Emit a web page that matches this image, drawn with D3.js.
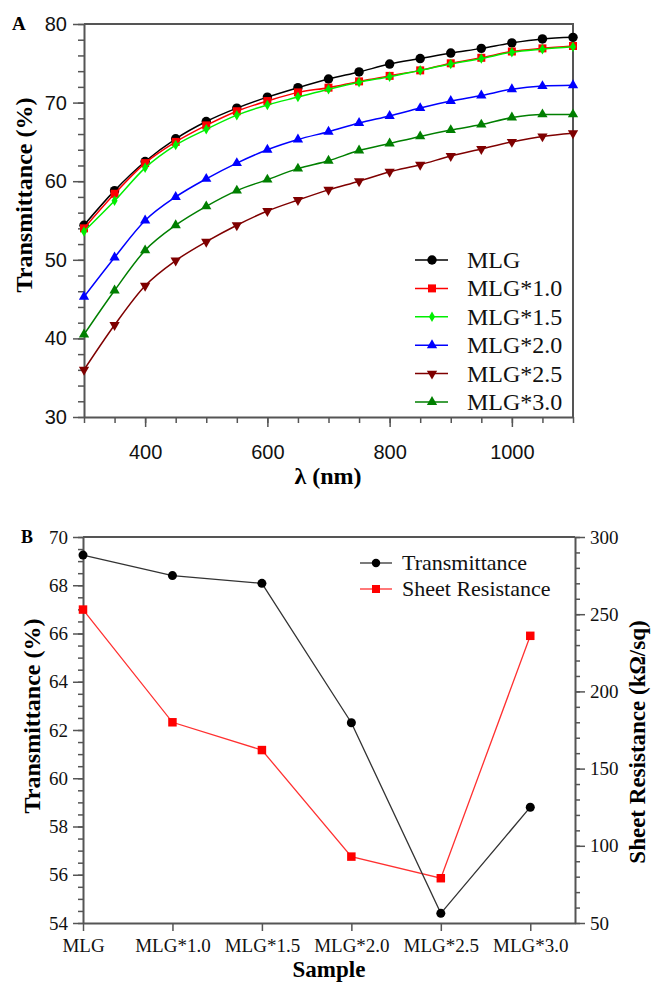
<!DOCTYPE html>
<html>
<head>
  <meta charset="utf-8">
  <title>MLG transmittance</title>
  <style>
    body { margin: 0; background: #fff; }
    svg { display: block; }
    .axis path, .axis line { stroke: #555; }
  </style>
</head>
<body>
  <div id='chart'></div>
  <script src="https://d3js.org/d3.v7.min.js"></script>
  <script>
    // panel A data (every 50 nm)
    let wavelengths = [300, 350, 400, 450, 500, 550, 600, 650, 700, 750, 800, 850, 900, 950, 1000, 1050, 1100];
    let mlg   = [54.4, 58.8, 62.5, 65.4, 67.6, 69.3, 70.7, 71.9, 73.0, 73.9, 74.9, 75.6, 76.3, 76.9, 77.6, 78.1, 78.3];
    let mlg10 = [54.0, 58.4, 62.3, 65.0, 67.1, 68.9, 70.2, 71.3, 71.9, 72.7, 73.4, 74.1, 75.0, 75.7, 76.5, 76.9, 77.2];
    let mlg15 = [53.6, 57.5, 61.7, 64.6, 66.6, 68.4, 69.7, 70.7, 71.7, 72.6, 73.3, 74.1, 74.9, 75.6, 76.4, 76.8, 77.1];
    let mlg20 = [45.3, 50.3, 55.0, 58.0, 60.3, 62.3, 64.0, 65.3, 66.3, 67.4, 68.3, 69.3, 70.2, 70.9, 71.7, 72.1, 72.2];
    let mlg25 = [36.0, 41.7, 46.7, 49.9, 52.3, 54.4, 56.2, 57.6, 58.9, 60.0, 61.2, 62.1, 63.2, 64.1, 65.0, 65.7, 66.1];
    let mlg30 = [40.5, 46.1, 51.2, 54.4, 56.8, 58.8, 60.2, 61.6, 62.6, 63.9, 64.8, 65.7, 66.5, 67.2, 68.1, 68.5, 68.5];
    let seriesNames = ['MLG', 'MLG*1.0', 'MLG*1.5', 'MLG*2.0', 'MLG*2.5', 'MLG*3.0'];

    // panel B data
    let samples = ['MLG', 'MLG*1.0', 'MLG*1.5', 'MLG*2.0', 'MLG*2.5', 'MLG*3.0'];
    let transB = [69.25, 68.4, 68.08, 62.3, 54.4, 58.8];
    let sheetR = [253, 180, 162, 93, 79, 236];

    let svgWidth = 651;
    let svgHeight = 985;
    let serif = "'Liberation Serif', 'Times New Roman', serif";
    let sans = "'Liberation Sans', Arial, sans-serif";

    function translate(x, y) {
      return 'translate(' + x + ',' + y + ')';
    }

    let svg = d3.select('#chart').append('svg')
      .attr('width', svgWidth)
      .attr('height', svgHeight);

    // ---------- panel A ----------
    let styles = [
      { color: '#000000', sym: d3.symbolCircle, size: 70, rot: 0 },
      { color: '#ff0000', sym: d3.symbolSquare, size: 64, rot: 0 },
      { color: '#00ee00', sym: d3.symbolDiamond, size: 32, rot: 0 },
      { color: '#0000ff', sym: d3.symbolTriangle, size: 46, rot: 0 },
      { color: '#7f0000', sym: d3.symbolTriangle, size: 46, rot: 180 },
      { color: '#007f00', sym: d3.symbolTriangle, size: 46, rot: 0 }
    ];
    let seriesA = [mlg, mlg10, mlg15, mlg20, mlg25, mlg30];

    let ax = d3.scaleLinear().domain([300, 1100]).range([84, 573]);
    let ay = d3.scaleLinear().domain([30, 80]).range([417, 24]);

    let gA = svg.append('g');

    // minor ticks
    gA.append('g').attr('class', 'axis').attr('transform', translate(84, 0))
      .call(d3.axisLeft(ay).tickValues(d3.range(30, 81, 2)).tickSize(6).tickFormat(''))
      .call(g => g.select('.domain').remove())
      .selectAll('line').attr('stroke-width', 1.5);
    gA.append('g').attr('class', 'axis').attr('transform', translate(0, 417))
      .call(d3.axisBottom(ax).tickValues(d3.range(300, 1101, 50)).tickSize(6).tickFormat(''))
      .call(g => g.select('.domain').remove())
      .selectAll('line').attr('stroke-width', 1.5);

    // major ticks
    let ayAxis = gA.append('g').attr('class', 'axis').attr('transform', translate(84, 0))
      .call(d3.axisLeft(ay).tickValues(d3.range(30, 81, 10)).tickSize(11).tickPadding(6).tickSizeOuter(0));
    let axAxis = gA.append('g').attr('class', 'axis').attr('transform', translate(0, 417))
      .call(d3.axisBottom(ax).tickValues([400, 600, 800, 1000]).tickFormat(d3.format('d'))
        .tickSize(10).tickPadding(18).tickSizeOuter(0));
    [ayAxis, axAxis].forEach(a => {
      a.selectAll('text').attr('font-family', sans).attr('font-size', 20).attr('fill', '#111');
      a.selectAll('line').attr('stroke-width', 1.5);
      a.select('.domain').attr('stroke-width', 2);
    });

    // frame top + right
    gA.append('path')
      .attr('d', 'M' + ax(300) + ',' + ay(80) + 'H' + ax(1100) + 'V' + ay(30))
      .attr('fill', 'none').attr('stroke', '#555').attr('stroke-width', 2);

    let lineA = d3.line()
      .x((d, i) => ax(wavelengths[i]))
      .y(d => ay(d))
      .curve(d3.curveMonotoneX);

    seriesA.forEach((vals, k) => {
      let st = styles[k];
      let g = gA.append('g');
      g.append('path')
        .attr('d', lineA(vals))
        .attr('fill', 'none')
        .attr('stroke', st.color)
        .attr('stroke-width', 1.5);
      g.selectAll('path.pt').data(vals).enter()
        .append('path')
        .attr('class', 'pt')
        .attr('d', d3.symbol().type(st.sym).size(st.size))
        .attr('transform', (d, i) => translate(ax(wavelengths[i]), ay(d)) + ' rotate(' + st.rot + ')')
        .attr('fill', st.color);
    });

    // legend A
    let legA = gA.append('g');
    seriesNames.forEach((name, k) => {
      let st = styles[k];
      let y = 260 + k * 28.4;
      legA.append('line').attr('x1', 415).attr('x2', 448).attr('y1', y).attr('y2', y)
        .attr('stroke', st.color).attr('stroke-width', 1.5);
      legA.append('path')
        .attr('d', d3.symbol().type(st.sym).size(st.size))
        .attr('transform', translate(432, y) + ' rotate(' + st.rot + ')')
        .attr('fill', st.color);
      legA.append('text').attr('x', 467).attr('y', y + 8)
        .attr('font-family', serif).attr('font-size', 24).attr('fill', '#111')
        .text(name);
    });

    gA.append('text').attr('x', 12).attr('y', 30)
      .attr('font-family', serif).attr('font-weight', 'bold').attr('font-size', 19)
      .text('A');
    gA.append('text')
      .attr('transform', translate(32, 195) + ' rotate(-90)')
      .attr('text-anchor', 'middle')
      .attr('font-family', serif).attr('font-weight', 'bold').attr('font-size', 24)
      .text('Transmittance (%)');
    gA.append('text').attr('x', 328).attr('y', 484)
      .attr('text-anchor', 'middle')
      .attr('font-family', serif).attr('font-weight', 'bold').attr('font-size', 24)
      .text('λ (nm)');

    // ---------- panel B ----------
    let bx = d3.scaleLinear().domain([0, 5.5]).range([83, 575]);
    let by = d3.scaleLinear().domain([54, 70]).range([923, 537]);
    let br = d3.scaleLinear().domain([50, 300]).range([923, 537]);

    let gB = svg.append('g');

    gB.append('g').attr('class', 'axis').attr('transform', translate(83, 0))
      .call(d3.axisLeft(by).tickValues(d3.range(54, 70.01, 0.5)).tickSize(5).tickFormat(''))
      .call(g => g.select('.domain').remove())
      .selectAll('line').attr('stroke-width', 1.5);
    gB.append('g').attr('class', 'axis').attr('transform', translate(575, 0))
      .call(d3.axisRight(br).tickValues(d3.range(50, 301, 10)).tickSize(5).tickFormat(''))
      .call(g => g.select('.domain').remove())
      .selectAll('line').attr('stroke-width', 1.5);

    let byAxis = gB.append('g').attr('class', 'axis').attr('transform', translate(83, 0))
      .call(d3.axisLeft(by).tickValues(d3.range(54, 71, 2)).tickSize(10).tickPadding(5).tickSizeOuter(0));
    let brAxis = gB.append('g').attr('class', 'axis').attr('transform', translate(575, 0))
      .call(d3.axisRight(br).tickValues(d3.range(50, 301, 50)).tickSize(10).tickPadding(5).tickSizeOuter(0));
    let bxAxis = gB.append('g').attr('class', 'axis').attr('transform', translate(0, 923))
      .call(d3.axisBottom(bx).tickValues(d3.range(0, 6)).tickFormat(i => samples[i])
        .tickSize(8).tickPadding(8).tickSizeOuter(0));
    [byAxis, brAxis, bxAxis].forEach(a => {
      a.selectAll('text').attr('font-family', serif).attr('font-size', 19).attr('fill', '#111');
      a.selectAll('line').attr('stroke-width', 1.5);
      a.select('.domain').attr('stroke-width', 2);
    });

    gB.append('line').attr('x1', 83).attr('x2', 575).attr('y1', 537).attr('y2', 537)
      .attr('stroke', '#555').attr('stroke-width', 2);

    let lineT = d3.line().x((d, i) => bx(i)).y(d => by(d));
    let lineR = d3.line().x((d, i) => bx(i)).y(d => br(d));

    gB.append('path').attr('d', lineR(sheetR))
      .attr('fill', 'none').attr('stroke', '#ff3030').attr('stroke-width', 1.3);
    gB.append('path').attr('d', lineT(transB))
      .attr('fill', 'none').attr('stroke', '#333').attr('stroke-width', 1.3);

    gB.selectAll('.sq').data(sheetR).enter()
      .append('path').attr('class', 'sq')
      .attr('d', d3.symbol().type(d3.symbolSquare).size(72))
      .attr('transform', (d, i) => translate(bx(i), br(d)))
      .attr('fill', '#ff0000');
    gB.selectAll('.ci').data(transB).enter()
      .append('path').attr('class', 'ci')
      .attr('d', d3.symbol().type(d3.symbolCircle).size(64))
      .attr('transform', (d, i) => translate(bx(i), by(d)))
      .attr('fill', '#000');

    // legend B
    let legB = [
      { name: 'Transmittance', color: '#333', fill: '#000', sym: d3.symbolCircle, size: 56 },
      { name: 'Sheet Resistance', color: '#ff3030', fill: '#ff0000', sym: d3.symbolSquare, size: 64 }
    ];
    legB.forEach((l, k) => {
      let y = 563 + k * 26;
      gB.append('line').attr('x1', 360).attr('x2', 392).attr('y1', y).attr('y2', y)
        .attr('stroke', l.color).attr('stroke-width', 1.3);
      gB.append('path').attr('d', d3.symbol().type(l.sym).size(l.size))
        .attr('transform', translate(376, y)).attr('fill', l.fill);
      gB.append('text').attr('x', 402).attr('y', y + 7)
        .attr('font-family', serif).attr('font-size', 22).attr('fill', '#111')
        .text(l.name);
    });

    gB.append('text').attr('x', 21).attr('y', 543)
      .attr('font-family', serif).attr('font-weight', 'bold').attr('font-size', 18)
      .text('B');
    gB.append('text')
      .attr('transform', translate(40, 716) + ' rotate(-90)')
      .attr('text-anchor', 'middle')
      .attr('font-family', serif).attr('font-weight', 'bold').attr('font-size', 24)
      .text('Transmittance (%)');
    gB.append('text')
      .attr('transform', translate(645, 742) + ' rotate(-90)')
      .attr('text-anchor', 'middle')
      .attr('font-family', serif).attr('font-weight', 'bold').attr('font-size', 23)
      .text('Sheet Resistance (kΩ/sq)');
    gB.append('text').attr('x', 329).attr('y', 977)
      .attr('text-anchor', 'middle')
      .attr('font-family', serif).attr('font-weight', 'bold').attr('font-size', 23)
      .text('Sample');
  </script>
</body>
</html>
